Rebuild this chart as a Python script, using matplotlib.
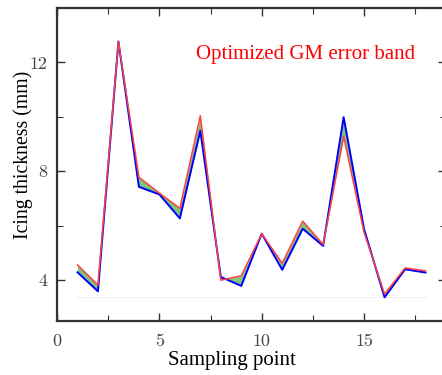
import matplotlib
matplotlib.use("Agg")
import matplotlib.pyplot as plt
from matplotlib.ticker import MultipleLocator

x = list(range(1, 19))
lower = [4.29, 3.59, 12.77, 7.43, 7.15, 6.27, 9.49, 4.12, 3.79, 5.71, 4.38, 5.89, 5.26, 9.99, 5.87, 3.37, 4.40, 4.28]
upper = [4.56, 3.82, 12.77, 7.78, 7.20, 6.64, 10.04, 4.00, 4.16, 5.71, 4.62, 6.17, 5.31, 9.28, 5.75, 3.49, 4.45, 4.34]
baseline = [3.37, 3.37]
xticks = [0, 5, 10, 15]
yticks = [4, 8, 12]

fig = plt.figure(figsize=(4.42, 3.75), dpi=100)
ax = fig.add_axes([57/442, (375-321)/375, (446-57)/442, (321-8)/375])

ax.plot([x[0], x[-1]], baseline, color='#eef0f2', lw=0.8, zorder=1)
ax.fill_between(x, lower, upper, color='#7dc47d', lw=0, zorder=2)
ax.plot(x, lower, color='#0000ff', lw=1.4, zorder=3)
ax.plot(x, upper, color='#ff4040', lw=1.1, zorder=4)

ax.set_xlim(0, 19)
ax.set_ylim(2.5, 14)
ax.set_xticks(xticks)
ax.set_yticks(yticks)
ax.xaxis.set_minor_locator(MultipleLocator(2.5))
ax.yaxis.set_minor_locator(MultipleLocator(2))
ax.tick_params(which='both', direction='in', top=True, right=True, colors='#333333', labelcolor='#444444')
ax.tick_params(which='major', length=6, width=1.0)
ax.tick_params(axis='x', which='major', pad=9)
ax.tick_params(axis='y', which='major', pad=7)
ax.tick_params(which='minor', length=4, width=0.8)
for lbl in ax.get_xticklabels() + ax.get_yticklabels():
    lbl.set_fontfamily('cmr10')
    lbl.set_fontsize(13)
for s in ax.spines.values():
    s.set_linewidth(1.6)
    s.set_color('#333333')

ax.set_xlabel('Sampling point', family='Liberation Serif', fontsize=15, labelpad=1)
ax.xaxis.set_label_coords(0.45, -0.095)
ax.set_ylabel('Icing thickness (mm)', family='Liberation Serif', fontsize=14.2)
ax.yaxis.set_label_coords(-0.062, 0.53)
ax.text(0.64, 0.853, 'Optimized GM error band', transform=ax.transAxes, ha='center', va='center',
        color='#ff0000', family='Liberation Serif', fontsize=15)

fig.savefig('out.png', dpi=100)
